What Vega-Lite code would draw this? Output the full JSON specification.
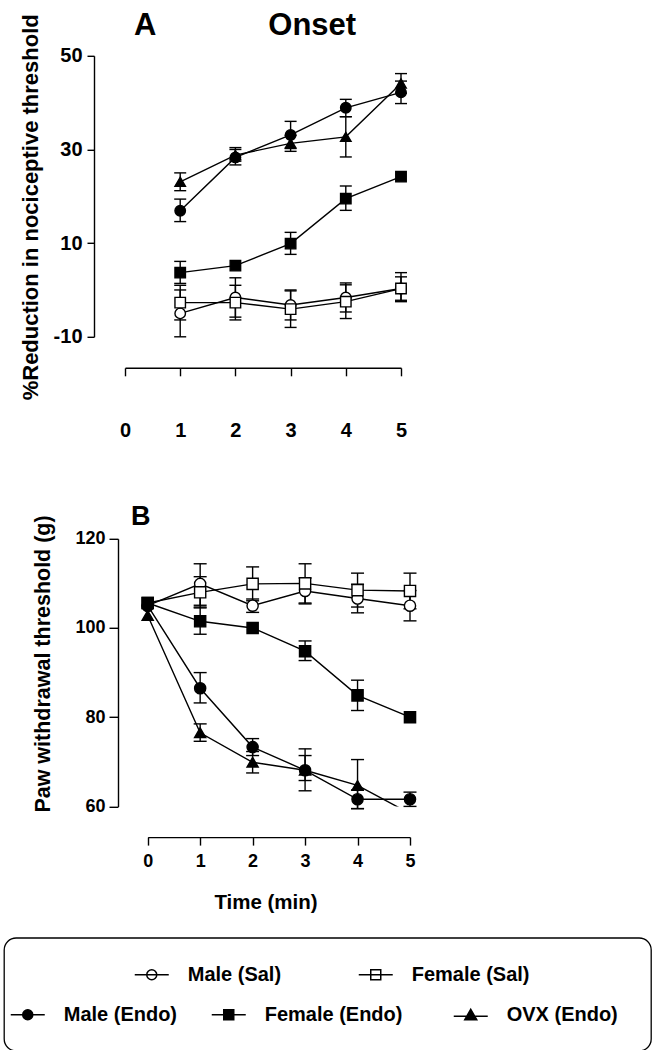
{
  "$schema": "https://vega.github.io/schema/vega-lite/v6.json",
  "background": "white",
  "padding": {"left": 3, "top": 8.8, "right": 0, "bottom": 0},
  "config": {
    "font": "Liberation Sans",
    "view": {"stroke": null},
    "axis": {"domainColor": "black", "tickColor": "black", "domainWidth": 1.4, "tickWidth": 1.4, "labelColor": "black", "titleColor": "black", "labelFont": "Liberation Sans", "titleFont": "Liberation Sans", "labelFontWeight": "bold", "titleFontWeight": "bold", "grid": false, "labelFlush": false, "labelOverlap": false},
    "title": {"font": "Liberation Sans", "fontWeight": "bold", "color": "black"}
  },
  "data": {"values": [
    {"panel": "A", "group": "Male (Sal)", "t": 1, "val": -5.0, "lo": -10.0, "hi": 0.0},
    {"panel": "A", "group": "Male (Sal)", "t": 2, "val": -1.6, "lo": -5.8, "hi": 2.6},
    {"panel": "A", "group": "Male (Sal)", "t": 3, "val": -3.2, "lo": -6.4, "hi": 0.0},
    {"panel": "A", "group": "Male (Sal)", "t": 4, "val": -1.6, "lo": -4.7, "hi": 1.5},
    {"panel": "A", "group": "Male (Sal)", "t": 5, "val": 0.3, "lo": -2.5, "hi": 3.7},
    {"panel": "A", "group": "Female (Sal)", "t": 1, "val": -2.7, "lo": -6.4, "hi": 1.0},
    {"panel": "A", "group": "Female (Sal)", "t": 2, "val": -2.7, "lo": -6.4, "hi": 1.0},
    {"panel": "A", "group": "Female (Sal)", "t": 3, "val": -4.1, "lo": -8.0, "hi": -0.2},
    {"panel": "A", "group": "Female (Sal)", "t": 4, "val": -2.5, "lo": -6.1, "hi": 1.1},
    {"panel": "A", "group": "Female (Sal)", "t": 5, "val": 0.3, "lo": -2.2, "hi": 2.8},
    {"panel": "A", "group": "Male (Endo)", "t": 1, "val": 16.9, "lo": 14.6, "hi": 19.4},
    {"panel": "A", "group": "Male (Endo)", "t": 2, "val": 28.3, "lo": 26.7, "hi": 30.4},
    {"panel": "A", "group": "Male (Endo)", "t": 3, "val": 33.1, "lo": 30.2, "hi": 36.0},
    {"panel": "A", "group": "Male (Endo)", "t": 4, "val": 38.9, "lo": 37.0, "hi": 40.7},
    {"panel": "A", "group": "Male (Endo)", "t": 5, "val": 42.2, "lo": 39.8, "hi": 44.6},
    {"panel": "A", "group": "Female (Endo)", "t": 1, "val": 3.7, "lo": 1.4, "hi": 6.1},
    {"panel": "A", "group": "Female (Endo)", "t": 2, "val": 5.2, "lo": null, "hi": null},
    {"panel": "A", "group": "Female (Endo)", "t": 3, "val": 9.9, "lo": 7.6, "hi": 12.3},
    {"panel": "A", "group": "Female (Endo)", "t": 4, "val": 19.5, "lo": 17.0, "hi": 22.2},
    {"panel": "A", "group": "Female (Endo)", "t": 5, "val": 24.2, "lo": null, "hi": null},
    {"panel": "A", "group": "OVX (Endo)", "t": 1, "val": 23.1, "lo": 21.2, "hi": 25.0},
    {"panel": "A", "group": "OVX (Endo)", "t": 2, "val": 28.8, "lo": 27.5, "hi": 30.0},
    {"panel": "A", "group": "OVX (Endo)", "t": 3, "val": 31.3, "lo": 29.6, "hi": 33.0},
    {"panel": "A", "group": "OVX (Endo)", "t": 4, "val": 32.7, "lo": 28.4, "hi": 37.0},
    {"panel": "A", "group": "OVX (Endo)", "t": 5, "val": 44.1, "lo": 42.0, "hi": 46.2},
    {"panel": "B", "group": "Male (Sal)", "t": 0, "val": 105.0, "lo": null, "hi": null},
    {"panel": "B", "group": "Male (Sal)", "t": 1, "val": 109.9, "lo": 105.1, "hi": 114.4},
    {"panel": "B", "group": "Male (Sal)", "t": 2, "val": 105.0, "lo": 103.5, "hi": 106.5},
    {"panel": "B", "group": "Male (Sal)", "t": 3, "val": 108.3, "lo": 105.4, "hi": 111.2},
    {"panel": "B", "group": "Male (Sal)", "t": 4, "val": 106.6, "lo": 103.4, "hi": 109.8},
    {"panel": "B", "group": "Male (Sal)", "t": 5, "val": 105.0, "lo": 101.6, "hi": 108.4},
    {"panel": "B", "group": "Female (Sal)", "t": 0, "val": 105.6, "lo": null, "hi": null},
    {"panel": "B", "group": "Female (Sal)", "t": 1, "val": 108.0, "lo": 104.5, "hi": 111.5},
    {"panel": "B", "group": "Female (Sal)", "t": 2, "val": 109.9, "lo": 106.1, "hi": 113.7},
    {"panel": "B", "group": "Female (Sal)", "t": 3, "val": 110.0, "lo": 105.6, "hi": 114.4},
    {"panel": "B", "group": "Female (Sal)", "t": 4, "val": 108.5, "lo": 104.7, "hi": 112.3},
    {"panel": "B", "group": "Female (Sal)", "t": 5, "val": 108.3, "lo": 104.3, "hi": 112.3},
    {"panel": "B", "group": "Male (Endo)", "t": 0, "val": 105.0, "lo": null, "hi": null},
    {"panel": "B", "group": "Male (Endo)", "t": 1, "val": 86.5, "lo": 83.2, "hi": 90.0},
    {"panel": "B", "group": "Male (Endo)", "t": 2, "val": 73.3, "lo": 71.4, "hi": 75.2},
    {"panel": "B", "group": "Male (Endo)", "t": 3, "val": 68.1, "lo": 63.5, "hi": 72.9},
    {"panel": "B", "group": "Male (Endo)", "t": 4, "val": 61.6, "lo": 59.5, "hi": 63.7},
    {"panel": "B", "group": "Male (Endo)", "t": 5, "val": 61.6, "lo": 60.0, "hi": 63.2},
    {"panel": "B", "group": "Female (Endo)", "t": 0, "val": 105.6, "lo": null, "hi": null},
    {"panel": "B", "group": "Female (Endo)", "t": 1, "val": 101.5, "lo": 98.6, "hi": 104.7},
    {"panel": "B", "group": "Female (Endo)", "t": 2, "val": 100.0, "lo": null, "hi": null},
    {"panel": "B", "group": "Female (Endo)", "t": 3, "val": 94.8, "lo": 92.7, "hi": 97.1},
    {"panel": "B", "group": "Female (Endo)", "t": 4, "val": 84.9, "lo": 81.5, "hi": 88.3},
    {"panel": "B", "group": "Female (Endo)", "t": 5, "val": 80.0, "lo": null, "hi": null},
    {"panel": "B", "group": "OVX (Endo)", "t": 0, "val": 102.8, "lo": null, "hi": null},
    {"panel": "B", "group": "OVX (Endo)", "t": 1, "val": 76.5, "lo": 74.6, "hi": 78.5},
    {"panel": "B", "group": "OVX (Endo)", "t": 2, "val": 69.9, "lo": 67.5, "hi": 72.3},
    {"panel": "B", "group": "OVX (Endo)", "t": 3, "val": 68.1, "lo": 65.8, "hi": 71.4},
    {"panel": "B", "group": "OVX (Endo)", "t": 4, "val": 64.7, "lo": 59.5, "hi": 70.5},
    {"panel": "B", "group": "OVX (Endo)", "t": 5, "val": 58.4, "lo": null, "hi": null}
  ]},
  "spacing": 131,
  "bounds": "flush",
  "resolve": {"scale": {"shape": "independent", "fill": "independent", "size": "independent"}, "legend": {"shape": "independent", "fill": "independent", "size": "independent"}},
  "vconcat": [
    {
      "width": 400,
      "height": 351.7,
      "title": {"text": "A\u00a0\u00a0\u00a0\u00a0\u00a0\u00a0\u00a0\u00a0\u00a0\u00a0\u00a0\u00a0\u00a0Onset", "anchor": "start", "frame": "group", "dx": 130, "fontSize": 31, "baseline": "top", "offset": -28.1},
      "transform": [{"filter": "datum.panel === 'A'"}],
      "encoding": {
        "x": {"field": "t", "type": "quantitative", "scale": {"domain": [0, 5], "range": [121, 397], "nice": false, "zero": false},
              "axis": {"values": [0, 1, 2, 3, 4, 5], "offset": -39.7, "tickSize": 8, "labelPadding": 45, "labelFontSize": 20, "title": null, "labelFlush": false}}
      },
      "layer": [
        {"mark": {"type": "rule", "color": "black", "strokeWidth": 1.4},
         "encoding": {"y": {"field": "lo", "type": "quantitative", "title": "%Reduction in nociceptive threshold", "scale": {"domain": [-10, 50], "range": [281, 0], "nice": false, "zero": false},
                            "axis": {"values": [-10, 10, 30, 50], "labelExpr": "'' + datum.value", "offset": -90, "tickSize": 7, "labelPadding": 5, "labelFontSize": 20, "titleFontSize": 22, "titlePadding": 11, "titleY": 344, "titleAlign": "left"}},
                      "y2": {"field": "hi"}}},
        {"mark": {"type": "tick", "orient": "horizontal", "size": 12, "thickness": 1.4, "color": "black", "opacity": 1},
         "encoding": {"y": {"field": "lo", "type": "quantitative", "title": "%Reduction in nociceptive threshold", "scale": {"domain": [-10, 50], "range": [281, 0], "nice": false, "zero": false},
                            "axis": {"values": [-10, 10, 30, 50], "labelExpr": "'' + datum.value", "offset": -90, "tickSize": 7, "labelPadding": 5, "labelFontSize": 20, "titleFontSize": 22, "titlePadding": 11, "titleY": 344, "titleAlign": "left"}}}},
        {"mark": {"type": "tick", "orient": "horizontal", "size": 12, "thickness": 1.4, "color": "black", "opacity": 1},
         "encoding": {"y": {"field": "hi", "type": "quantitative", "title": "%Reduction in nociceptive threshold", "scale": {"domain": [-10, 50], "range": [281, 0], "nice": false, "zero": false},
                            "axis": {"values": [-10, 10, 30, 50], "labelExpr": "'' + datum.value", "offset": -90, "tickSize": 7, "labelPadding": 5, "labelFontSize": 20, "titleFontSize": 22, "titlePadding": 11, "titleY": 344, "titleAlign": "left"}}}},
        {"mark": {"type": "line", "color": "black", "strokeWidth": 1.4},
         "encoding": {"y": {"field": "val", "type": "quantitative", "title": "%Reduction in nociceptive threshold", "scale": {"domain": [-10, 50], "range": [281, 0], "nice": false, "zero": false},
                            "axis": {"values": [-10, 10, 30, 50], "labelExpr": "'' + datum.value", "offset": -90, "tickSize": 7, "labelPadding": 5, "labelFontSize": 20, "titleFontSize": 22, "titlePadding": 11, "titleY": 344, "titleAlign": "left"}},
                      "detail": {"field": "group", "type": "nominal"}}},
        {"mark": {"type": "point", "filled": true, "stroke": "black", "strokeWidth": 1.4, "opacity": 1},
         "encoding": {"y": {"field": "val", "type": "quantitative", "title": "%Reduction in nociceptive threshold", "scale": {"domain": [-10, 50], "range": [281, 0], "nice": false, "zero": false},
                            "axis": {"values": [-10, 10, 30, 50], "labelExpr": "'' + datum.value", "offset": -90, "tickSize": 7, "labelPadding": 5, "labelFontSize": 20, "titleFontSize": 22, "titlePadding": 11, "titleY": 344, "titleAlign": "left"}},
                      "shape": {"field": "group", "type": "nominal", "legend": null, "scale": {"domain": ["Male (Sal)", "Female (Sal)", "Male (Endo)", "Female (Endo)", "OVX (Endo)"], "range": ["circle", "square", "circle", "square", "triangle-up"]}},
                      "fill": {"field": "group", "type": "nominal", "legend": null, "scale": {"domain": ["Male (Sal)", "Female (Sal)", "Male (Endo)", "Female (Endo)", "OVX (Endo)"], "range": ["white", "white", "black", "black", "black"]}},
                      "size": {"field": "group", "type": "nominal", "legend": null, "scale": {"domain": ["Male (Sal)", "Female (Sal)", "Male (Endo)", "Female (Endo)", "OVX (Endo)"], "range": [110, 110, 110, 112, 140]}}}}
      ]
    },
    {
      "width": 410,
      "height": 267.6,
      "title": {"text": "B", "anchor": "start", "frame": "group", "dx": 127, "fontSize": 27, "baseline": "top", "offset": -16.2},
      "transform": [{"filter": "datum.panel === 'B'"}],
      "encoding": {
        "x": {"field": "t", "type": "quantitative", "scale": {"domain": [0, 5], "range": [143.7, 406], "nice": false, "zero": false},
              "axis": {"values": [0, 1, 2, 3, 4, 5], "offset": 30.7, "tickSize": 8, "labelPadding": 7.4, "labelFontSize": 18, "title": "Time (min)", "titleFontSize": 20.5, "titleX": 261.5, "titleY": 55, "titleBaseline": "top", "titleAlign": "center", "labelFlush": false}}
      },
      "layer": [
        {"mark": {"type": "rule", "color": "black", "strokeWidth": 1.4},
         "encoding": {"y": {"field": "lo", "type": "quantitative", "title": "Paw withdrawal threshold (g)", "scale": {"domain": [60, 120], "nice": false, "zero": false},
                            "axis": {"values": [60, 80, 100, 120], "offset": -114, "tickSize": 9, "labelPadding": 4, "labelFontSize": 18, "titleFontSize": 21.5, "titlePadding": 20.5, "titleY": 273.3, "titleAlign": "left"}},
                      "y2": {"field": "hi"}}},
        {"mark": {"type": "tick", "orient": "horizontal", "size": 13, "thickness": 1.4, "color": "black", "opacity": 1},
         "encoding": {"y": {"field": "lo", "type": "quantitative", "title": "Paw withdrawal threshold (g)", "scale": {"domain": [60, 120], "nice": false, "zero": false},
                            "axis": {"values": [60, 80, 100, 120], "offset": -114, "tickSize": 9, "labelPadding": 4, "labelFontSize": 18, "titleFontSize": 21.5, "titlePadding": 20.5, "titleY": 273.3, "titleAlign": "left"}}}},
        {"mark": {"type": "tick", "orient": "horizontal", "size": 13, "thickness": 1.4, "color": "black", "opacity": 1},
         "encoding": {"y": {"field": "hi", "type": "quantitative", "title": "Paw withdrawal threshold (g)", "scale": {"domain": [60, 120], "nice": false, "zero": false},
                            "axis": {"values": [60, 80, 100, 120], "offset": -114, "tickSize": 9, "labelPadding": 4, "labelFontSize": 18, "titleFontSize": 21.5, "titlePadding": 20.5, "titleY": 273.3, "titleAlign": "left"}}}},
        {"mark": {"type": "line", "color": "black", "strokeWidth": 1.4, "clip": true},
         "encoding": {"y": {"field": "val", "type": "quantitative", "title": "Paw withdrawal threshold (g)", "scale": {"domain": [60, 120], "nice": false, "zero": false},
                            "axis": {"values": [60, 80, 100, 120], "offset": -114, "tickSize": 9, "labelPadding": 4, "labelFontSize": 18, "titleFontSize": 21.5, "titlePadding": 20.5, "titleY": 273.3, "titleAlign": "left"}},
                      "detail": {"field": "group", "type": "nominal"}}},
        {"transform": [{"filter": "datum.val >= 60"}],
         "mark": {"type": "point", "filled": true, "stroke": "black", "strokeWidth": 1.4, "opacity": 1},
         "encoding": {"y": {"field": "val", "type": "quantitative", "title": "Paw withdrawal threshold (g)", "scale": {"domain": [60, 120], "nice": false, "zero": false},
                            "axis": {"values": [60, 80, 100, 120], "offset": -114, "tickSize": 9, "labelPadding": 4, "labelFontSize": 18, "titleFontSize": 21.5, "titlePadding": 20.5, "titleY": 273.3, "titleAlign": "left"}},
                      "shape": {"field": "group", "type": "nominal", "legend": null, "scale": {"domain": ["Male (Sal)", "Female (Sal)", "Male (Endo)", "Female (Endo)", "OVX (Endo)"], "range": ["circle", "square", "circle", "square", "triangle-up"]}},
                      "fill": {"field": "group", "type": "nominal", "legend": null, "scale": {"domain": ["Male (Sal)", "Female (Sal)", "Male (Endo)", "Female (Endo)", "OVX (Endo)"], "range": ["white", "white", "black", "black", "black"]}},
                      "size": {"field": "group", "type": "nominal", "legend": null, "scale": {"domain": ["Male (Sal)", "Female (Sal)", "Male (Endo)", "Female (Endo)", "OVX (Endo)"], "range": [125, 125, 130, 130, 150]}}}}
      ]
    },
    {
      "width": 647,
      "height": 113,
      "view": {"stroke": "black", "strokeWidth": 1.3, "cornerRadius": 12, "fill": "white"},
      "transform": [{"filter": "false"}],
      "resolve": {"scale": {"shape": "independent"}, "legend": {"shape": "independent"}},
      "layer": [
        {"mark": {"type": "point", "filled": true, "fill": "white", "stroke": "black", "strokeWidth": 1.5, "opacity": 1},
         "encoding": {"shape": {"field": "group", "type": "nominal", "scale": {"domain": ["Male (Sal)"], "range": ["M-3.4,0L3.4,0M-1,0A1,1,0,1,0,1,0A1,1,0,1,0,-1,0Z"]},
           "legend": {"orient": "none", "legendX": 137.75, "legendY": 27, "title": null, "labelFontSize": 20, "labelFontWeight": "bold", "labelFont": "Liberation Sans", "labelColor": "black", "labelOffset": 26, "labelLimit": 400, "symbolSize": 100, "padding": 0, "symbolOffset": 0,
             "encode": {"symbols": {"update": {"stroke": {"value": "black"}, "fill": {"value": "white"}, "strokeWidth": {"value": 1.5}, "opacity": {"value": 1}}}}}}}},
        {"mark": {"type": "point", "filled": true, "fill": "white", "stroke": "black", "strokeWidth": 1.5, "opacity": 1},
         "encoding": {"shape": {"field": "group", "type": "nominal", "scale": {"domain": ["Female (Sal)"], "range": ["M-3.4,0L3.4,0M-1,-1L1,-1L1,1L-1,1Z"]},
           "legend": {"orient": "none", "legendX": 361.75, "legendY": 27, "title": null, "labelFontSize": 20, "labelFontWeight": "bold", "labelFont": "Liberation Sans", "labelColor": "black", "labelOffset": 26, "labelLimit": 400, "symbolSize": 100, "padding": 0, "symbolOffset": 0,
             "encode": {"symbols": {"update": {"stroke": {"value": "black"}, "fill": {"value": "white"}, "strokeWidth": {"value": 1.5}, "opacity": {"value": 1}}}}}}}},
        {"mark": {"type": "point", "filled": true, "color": "black", "stroke": "black", "strokeWidth": 1.5, "opacity": 1},
         "encoding": {"shape": {"field": "group", "type": "nominal", "scale": {"domain": ["Male (Endo)"], "range": ["M-3.4,0L3.4,0M-1,0A1,1,0,1,0,1,0A1,1,0,1,0,-1,0Z"]},
           "legend": {"orient": "none", "legendX": 13.75, "legendY": 67, "title": null, "labelFontSize": 20, "labelFontWeight": "bold", "labelFont": "Liberation Sans", "labelColor": "black", "labelOffset": 26, "labelLimit": 400, "symbolSize": 100, "padding": 0, "symbolOffset": 0,
             "encode": {"symbols": {"update": {"stroke": {"value": "black"}, "fill": {"value": "black"}, "strokeWidth": {"value": 1.5}, "opacity": {"value": 1}}}}}}}},
        {"mark": {"type": "point", "filled": true, "color": "black", "stroke": "black", "strokeWidth": 1.5, "opacity": 1},
         "encoding": {"shape": {"field": "group", "type": "nominal", "scale": {"domain": ["Female (Endo)"], "range": ["M-3.4,0L3.4,0M-1,-1L1,-1L1,1L-1,1Z"]},
           "legend": {"orient": "none", "legendX": 214.75, "legendY": 67, "title": null, "labelFontSize": 20, "labelFontWeight": "bold", "labelFont": "Liberation Sans", "labelColor": "black", "labelOffset": 26, "labelLimit": 400, "symbolSize": 100, "padding": 0, "symbolOffset": 0,
             "encode": {"symbols": {"update": {"stroke": {"value": "black"}, "fill": {"value": "black"}, "strokeWidth": {"value": 1.5}, "opacity": {"value": 1}}}}}}}},
        {"mark": {"type": "point", "filled": true, "color": "black", "stroke": "black", "strokeWidth": 1.5, "opacity": 1},
         "encoding": {"shape": {"field": "group", "type": "nominal", "scale": {"domain": ["OVX (Endo)"], "range": ["M-3.4,0.3L3.4,0.3M0,-1.1L1.2,1L-1.2,1Z"]},
           "legend": {"orient": "none", "legendX": 456.75, "legendY": 67, "title": null, "labelFontSize": 20, "labelFontWeight": "bold", "labelFont": "Liberation Sans", "labelColor": "black", "labelOffset": 26, "labelLimit": 400, "symbolSize": 100, "padding": 0, "symbolOffset": 0,
             "encode": {"symbols": {"update": {"stroke": {"value": "black"}, "fill": {"value": "black"}, "strokeWidth": {"value": 1.5}, "opacity": {"value": 1}}}}}}}}
      ]
    }
  ]
}
